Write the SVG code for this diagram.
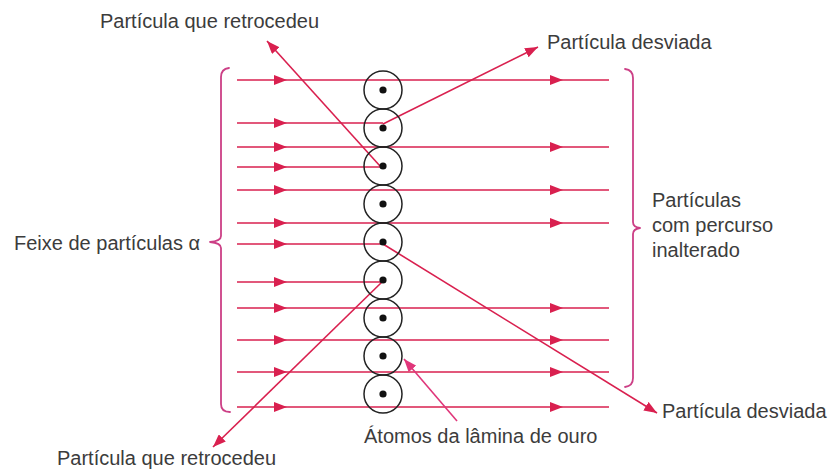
<svg xmlns="http://www.w3.org/2000/svg" width="828" height="471" viewBox="0 0 828 471">
  <style>
    .beam { fill: none; stroke: #d9204f; stroke-width: 1.6; }
    .brace { fill: none; stroke: #cc3f86; stroke-width: 1.8; stroke-linecap: round; stroke-linejoin: round; }
    .atom { fill: none; stroke: #222; stroke-width: 1.5; }
    .nucleus { fill: #111; }
    .lbl { font-family: "Liberation Sans", Arial, sans-serif; font-size: 20px; fill: #3c3c3c; }
    .ptr { fill: none; stroke: #e0367a; stroke-width: 1.6; }
  </style>
  <defs>
    <marker id="ah" viewBox="0 0 13 10" refX="13" refY="5" markerWidth="13" markerHeight="10" markerUnits="userSpaceOnUse" orient="auto">
      <path d="M0,0 L13,5 L0,10 Z" fill="#d9204f"/>
    </marker>
    <marker id="ahp" viewBox="0 0 13 10" refX="13" refY="5" markerWidth="13" markerHeight="10" markerUnits="userSpaceOnUse" orient="auto">
      <path d="M0,0 L13,5 L0,10 Z" fill="#e0367a"/>
    </marker>
  </defs>
  <rect width="828" height="471" fill="#fff"/>

  <g id="braces">
    <path class="brace" d="M229 68 Q221 69 221 77 L221 236 Q221 241 210 242 Q221 243 221 248 L221 404 Q221 412 230 412"/>
    <path class="brace" d="M625 69 Q633 70 633 78 L633 222 Q633 227 640 228 Q633 229 633 234 L633 378 Q633 386 625 387"/>
  </g>

  <g id="connectors">
    <path class="beam" marker-mid="url(#ah)" d="M237 80 L287 80 L563 80 L609 80"/>
    <path class="beam" marker-mid="url(#ah)" d="M237 123 L287 123 L383 123"/>
    <path class="beam" marker-mid="url(#ah)" d="M237 147 L287 147 L563 147 L609 147"/>
    <path class="beam" marker-mid="url(#ah)" d="M237 167 L287 167 L380 167"/>
    <path class="beam" marker-mid="url(#ah)" d="M237 190 L287 190 L563 190 L609 190"/>
    <path class="beam" marker-mid="url(#ah)" d="M237 223 L287 223 L563 223 L609 223"/>
    <path class="beam" marker-mid="url(#ah)" d="M237 244 L287 244 L383 244"/>
    <path class="beam" marker-mid="url(#ah)" d="M237 282 L287 282 L383 282"/>
    <path class="beam" marker-mid="url(#ah)" d="M237 308 L287 308 L563 308 L609 308"/>
    <path class="beam" marker-mid="url(#ah)" d="M237 340 L287 340 L563 340 L609 340"/>
    <path class="beam" marker-mid="url(#ah)" d="M237 372 L287 372 L563 372 L609 372"/>
    <path class="beam" marker-mid="url(#ah)" d="M237 407 L287 407 L563 407 L609 407"/>
    <path class="beam" marker-end="url(#ah)" d="M383 124 L538 47"/>
    <path class="beam" marker-end="url(#ah)" d="M380 166 L267 41"/>
    <path class="beam" marker-end="url(#ah)" d="M383 244 L657 413"/>
    <path class="beam" marker-end="url(#ah)" d="M383 281 L213 447"/>
    <path class="ptr" marker-end="url(#ahp)" d="M457 421 L404 359"/>
  </g>

  <g id="atoms">
    <g id="atom1"><circle class="atom" cx="383" cy="90" r="19"/><circle class="nucleus" cx="383" cy="90" r="3.6"/></g>
    <g id="atom2"><circle class="atom" cx="383" cy="128" r="19"/><circle class="nucleus" cx="383" cy="128" r="3.6"/></g>
    <g id="atom3"><circle class="atom" cx="383" cy="166" r="19"/><circle class="nucleus" cx="383" cy="166" r="3.6"/></g>
    <g id="atom4"><circle class="atom" cx="383" cy="204" r="19"/><circle class="nucleus" cx="383" cy="204" r="3.6"/></g>
    <g id="atom5"><circle class="atom" cx="383" cy="242" r="19"/><circle class="nucleus" cx="383" cy="242" r="3.6"/></g>
    <g id="atom6"><circle class="atom" cx="383" cy="280" r="19"/><circle class="nucleus" cx="383" cy="280" r="3.6"/></g>
    <g id="atom7"><circle class="atom" cx="383" cy="318" r="19"/><circle class="nucleus" cx="383" cy="318" r="3.6"/></g>
    <g id="atom8"><circle class="atom" cx="383" cy="356" r="19"/><circle class="nucleus" cx="383" cy="356" r="3.6"/></g>
    <g id="atom9"><circle class="atom" cx="383" cy="394" r="19"/><circle class="nucleus" cx="383" cy="394" r="3.6"/></g>
  </g>

  <g id="labels">
    <g id="lbl-retro-top"><text class="lbl" x="100" y="28">Partícula que retrocedeu</text></g>
    <g id="lbl-desv-top"><text class="lbl" x="547" y="49">Partícula desviada</text></g>
    <g id="lbl-feixe"><text class="lbl" x="14" y="250">Feixe de partículas α</text></g>
    <g id="lbl-inalt">
      <text class="lbl" x="652" y="207">Partículas</text>
      <text class="lbl" x="652" y="232">com percurso</text>
      <text class="lbl" x="652" y="257">inalterado</text>
    </g>
    <g id="lbl-desv-bot"><text class="lbl" x="662" y="418">Partícula desviada</text></g>
    <g id="lbl-atomos"><text class="lbl" x="364" y="443">Átomos da lâmina de ouro</text></g>
    <g id="lbl-retro-bot"><text class="lbl" x="57" y="465">Partícula que retrocedeu</text></g>
  </g>
</svg>
